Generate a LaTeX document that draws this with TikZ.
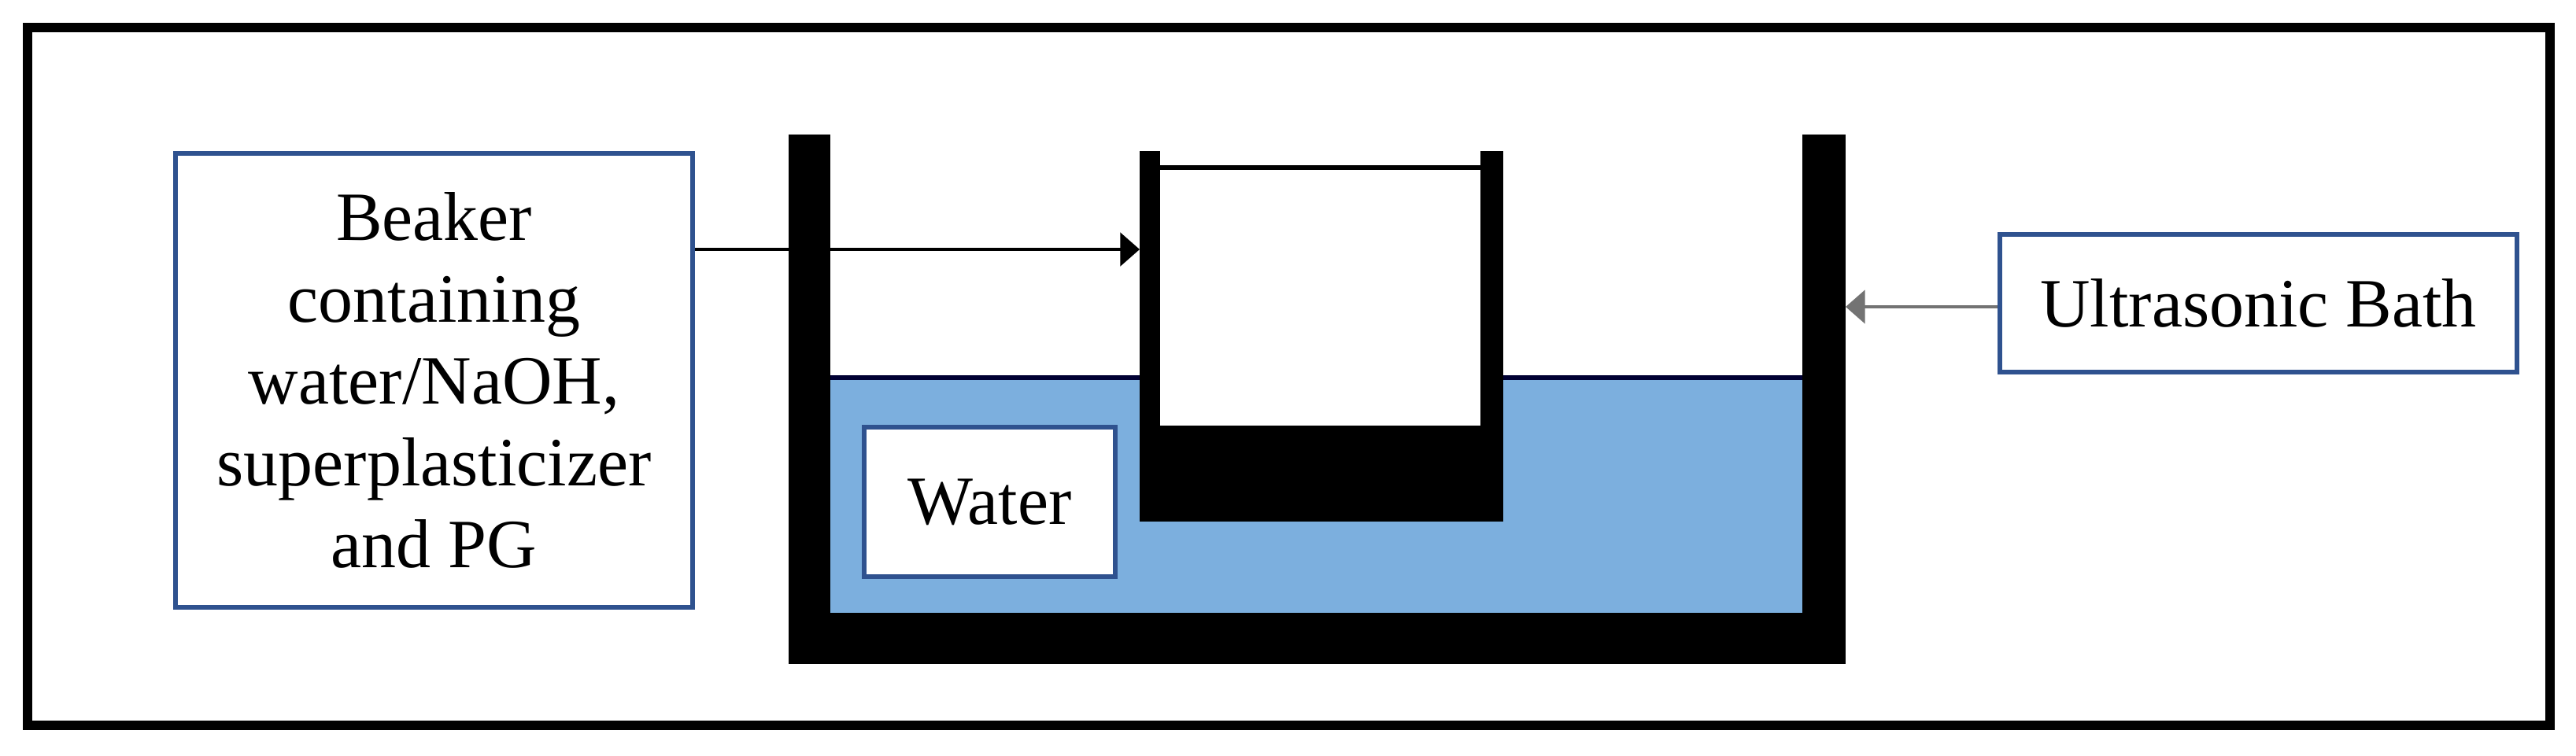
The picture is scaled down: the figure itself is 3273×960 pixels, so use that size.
\documentclass[tikz,border=0pt]{standalone}
\usepackage{fontspec}
\setmainfont{Liberation Serif}
\usetikzlibrary{arrows.meta}
\definecolor{boxblue}{RGB}{47,82,143}
\definecolor{waterblue}{RGB}{124,175,222}
\begin{document}
\begin{tikzpicture}[x=0.01cm,y=-0.01cm,
  lbl/.style={draw=boxblue,line width=1.6pt,fill=white,align=center,inner sep=0pt,
    font=\fontsize{25}{29.6}\selectfont},
  wall/.style={fill=black,draw=none},
  conn/.style={line width=1.2pt,-{Triangle[length=7pt,width=12pt]}}]
\useasboundingbox (0,0) rectangle (3273,960);
% outer frame
\draw[line width=3.2pt] (35,35) rectangle (3240,922);
% water
\fill[waterblue] (1055,480) rectangle (2290,779);
\draw[line width=1.5pt,black!80!blue] (1055,480) -- (2290,480);
% tank
\fill[wall] (1002,171) rectangle (1055,844);
\fill[wall] (2290,171) rectangle (2345,844);
\fill[wall] (1002,779) rectangle (2345,844);
% beaker
\fill[white] (1474,213) rectangle (1881,541);
\fill[wall] (1448,192) rectangle (1474,663);
\fill[wall] (1881,192) rectangle (1910,663);
\fill[wall] (1448,541) rectangle (1910,663);
\draw[line width=1.6pt] (1474,213) -- (1881,213);
\coordinate (bk) at (1448,317);
\coordinate (tk) at (2345,390);
% labels
\node[lbl,minimum width=6.57cm,minimum height=5.77cm] (beaker) at (551.5,483.5)
  {Beaker\\containing\\water/NaOH,\\superplasticizer\\and PG};
\node[lbl,minimum width=6.57cm,minimum height=1.75cm] (ultra) at (2869.5,385.5) {Ultrasonic Bath};
\node[lbl,minimum width=3.19cm,minimum height=1.9cm] (water) at (1257.5,638) {Water};
% connectors
\draw[conn] (beaker.east |- bk) -- (bk);
\draw[conn,draw=black!55] (ultra.west |- tk) -- (tk);
\end{tikzpicture}
\end{document}
